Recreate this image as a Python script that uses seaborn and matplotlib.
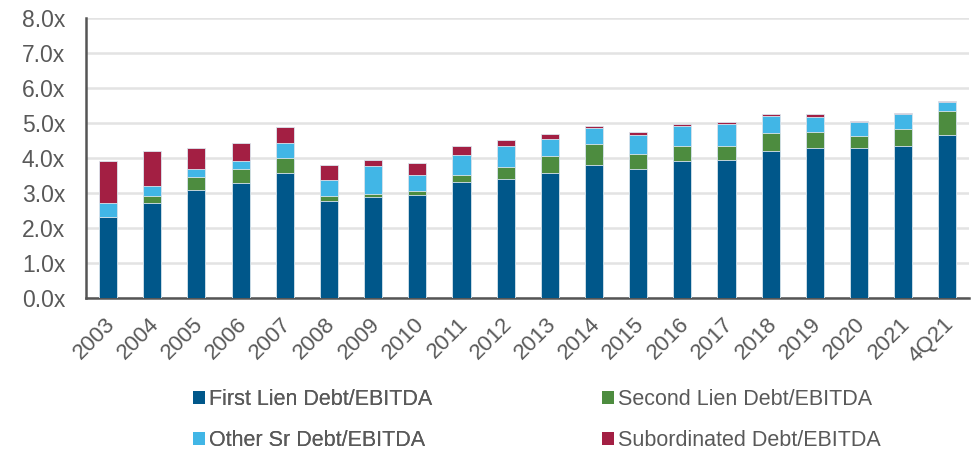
import pandas as pd
import matplotlib.pyplot as plt
import matplotlib.transforms as mtransforms
import seaborn as sns
from matplotlib.patches import Patch

# Data (x EBITDA)
years = ['2003', '2004', '2005', '2006', '2007', '2008', '2009', '2010', '2011', '2012',
         '2013', '2014', '2015', '2016', '2017', '2018', '2019', '2020', '2021', '4Q21']
first_lien = [2.30, 2.70, 3.07, 3.27, 3.58, 2.78, 2.89, 2.93, 3.31, 3.41,
              3.58, 3.79, 3.67, 3.90, 3.95, 4.21, 4.27, 4.27, 4.35, 4.64]
second_lien = [0.00, 0.20, 0.37, 0.42, 0.42, 0.12, 0.09, 0.12, 0.21, 0.33,
               0.48, 0.60, 0.45, 0.45, 0.40, 0.50, 0.48, 0.34, 0.46, 0.71]
other_sr = [0.40, 0.30, 0.25, 0.22, 0.41, 0.47, 0.80, 0.45, 0.55, 0.60,
            0.47, 0.45, 0.52, 0.57, 0.62, 0.48, 0.42, 0.40, 0.44, 0.25]
subordinated = [1.20, 1.00, 0.58, 0.50, 0.46, 0.42, 0.17, 0.36, 0.26, 0.17,
                0.14, 0.06, 0.09, 0.05, 0.06, 0.07, 0.07, 0.05, 0.04, 0.03]

series = ['First Lien Debt/EBITDA', 'Second Lien Debt/EBITDA',
          'Other Sr Debt/EBITDA', 'Subordinated Debt/EBITDA']
colors = ['#00578A', '#4D8C3F', '#41B6E6', '#A31F43']

df = pd.DataFrame({'year': years, series[0]: first_lien, series[1]: second_lien,
                   series[2]: other_sr, series[3]: subordinated})
# cumulative heights for stacking
cum = df[series].cumsum(axis=1)
cum['year'] = df['year']

sns.set_theme(style="white")
plt.rcParams['font.family'] = ['Liberation Sans', 'DejaVu Sans']
text_gray = '#595959'

fig = plt.figure(figsize=(9.74, 4.53), dpi=100)
ax = fig.add_axes([0.0883, 0.342, 0.907, 0.619])

# draw back to front: tallest cumulative first
for name, color in reversed(list(zip(series, colors))):
    sns.barplot(data=cum, x='year', y=name, color=color, width=0.41,
                edgecolor='#dbe6ee', linewidth=0.6, saturation=1, ax=ax, zorder=3)

ax.set_ylim(0, 8)
ax.set_xlim(-0.5, len(years) - 0.5)
ax.set_yticks(range(0, 9))
ax.set_yticklabels([f'{v:.1f}x' for v in range(0, 9)])
ax.yaxis.grid(True, color='#e3e3e3', linewidth=1.8, zorder=0)
ax.set_axisbelow(True)
ax.set_xlabel('')
ax.set_ylabel('')

for side in ['top', 'right']:
    ax.spines[side].set_visible(False)
for side in ['left', 'bottom']:
    ax.spines[side].set_color('#555555')
    ax.spines[side].set_linewidth(1.8)

ax.tick_params(axis='y', labelsize=16.5, labelcolor=text_gray, length=0, pad=15)
ax.tick_params(axis='x', labelsize=16, labelcolor=text_gray, length=0, pad=11)
shift = mtransforms.ScaledTranslation(-4 / 100, 0, fig.dpi_scale_trans)
for lbl in ax.get_xticklabels():
    lbl.set_rotation(45)
    lbl.set_ha('right')
    lbl.set_rotation_mode('anchor')
    lbl.set_transform(lbl.get_transform() + shift)

# legend: two columns placed separately, rows = (First, Second), (Other, Sub)
handles = [Patch(facecolor=c, edgecolor='none') for c in colors]
legend_kw = dict(loc='upper left', frameon=False, labelcolor=text_gray,
                 prop={'size': 15.5},
                 handlelength=0.56, handleheight=0.56, handletextpad=0.19,
                 labelspacing=0.95, borderpad=0, borderaxespad=0)
leg1 = fig.legend([handles[0], handles[2]], [series[0], series[2]],
                  bbox_to_anchor=(193 / 974, 1 - 389 / 453), **legend_kw)
fig.add_artist(leg1)
fig.legend([handles[1], handles[3]], [series[1], series[3]],
           bbox_to_anchor=(602 / 974, 1 - 389 / 453), **legend_kw)

fig.savefig('out.png', dpi=100)
